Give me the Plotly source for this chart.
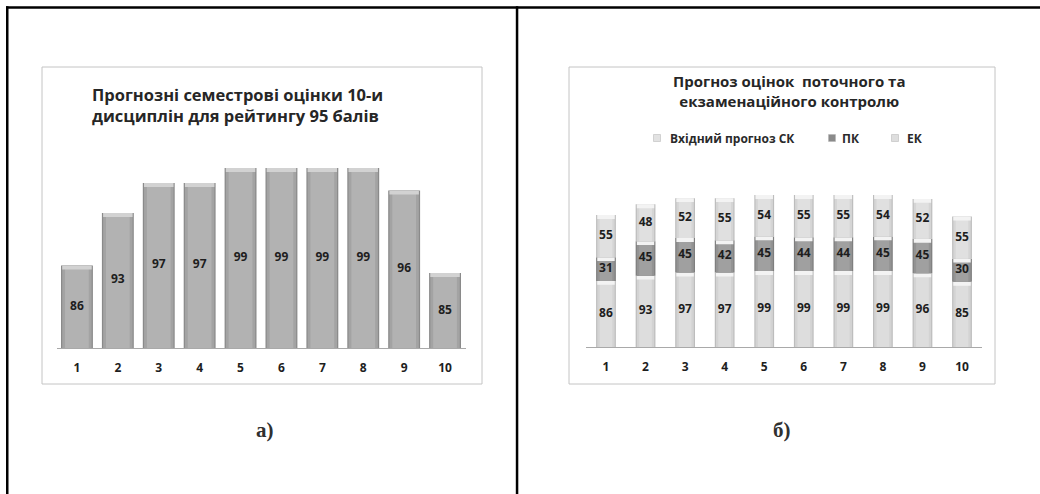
import plotly.graph_objects as go

# ---- data -------------------------------------------------------------
disciplines = [1, 2, 3, 4, 5, 6, 7, 8, 9, 10]
tick_labels = [str(d) for d in disciplines]

# (a) predicted semester scores for a rating of 95
semester_scores = [86, 93, 97, 97, 99, 99, 99, 99, 96, 85]

# (b) stacked forecast: incoming SK forecast, PK, EK
incoming_sk = [86, 93, 97, 97, 99, 99, 99, 99, 96, 85]
current_pk = [31, 45, 45, 42, 45, 44, 44, 45, 45, 30]
exam_ek = [55, 48, 52, 55, 54, 55, 55, 54, 52, 55]

series_names = ["Вхідний прогноз СК", "ПК", "ЕК"]

title_a = "Прогнозні семестрові оцінки 10-и<br>дисциплін для рейтингу 95 балів"
title_b = "Прогноз оцінок  поточного та<br>екзаменаційного контролю"

# ---- page geometry ----------------------------------------------------
W, H = 1040, 494


def px(x):
    return x / W


def py(y):
    return 1 - y / H


FONT = "Open Sans"
TXT = "#1e1e1e"

A_MIN, A_MAX = 75, 102.73
B_MAX = 217.7

fig = go.Figure()

# ---- panel (a): single series with a bevelled look ----------------------
for width, color in [(0.78, "#8a8a8a"), (0.72, "#a3a3a3"), (0.58, "#b2b2b2")]:
    fig.add_bar(x=disciplines, y=semester_scores, width=width,
                marker=dict(color=color, line_width=0),
                xaxis="x", yaxis="y", hoverinfo="skip", showlegend=False)
cap = 0.55
fig.add_bar(x=disciplines, y=[cap] * len(disciplines),
            base=[v - cap for v in semester_scores], width=0.72,
            marker=dict(color="#d2d2d2", line_width=0),
            xaxis="x", yaxis="y", hoverinfo="skip", showlegend=False)
fig.add_scatter(x=disciplines, y=[(A_MIN + v) / 2 for v in semester_scores],
                mode="text", text=[str(v) for v in semester_scores],
                textfont=dict(family=FONT, size=12, color=TXT, weight="bold"),
                xaxis="x", yaxis="y", hoverinfo="skip", showlegend=False)

# ---- panel (b): stacked series -----------------------------------------
base_pk = incoming_sk
base_ek = [s + p for s, p in zip(incoming_sk, current_pk)]
segments = [
    (incoming_sk, [0] * len(disciplines), ("#bdbdbd", "#d3d3d3", "#dddddd")),
    (current_pk, base_pk, ("#7e7e7e", "#939393", "#a0a0a0")),
    (exam_ek, base_ek, ("#bdbdbd", "#d5d5d5", "#e0e0e0")),
]
hl = 5
for values, bases, colors in segments:
    for width, color in zip((0.5, 0.44, 0.32), colors):
        fig.add_bar(x=disciplines, y=values, base=bases, width=width,
                    marker=dict(color=color, line_width=0),
                    xaxis="x2", yaxis="y2", hoverinfo="skip", showlegend=False)
    fig.add_bar(x=disciplines, y=[hl] * len(disciplines),
                base=[b + v - hl for b, v in zip(bases, values)], width=0.44,
                marker=dict(color="#f3f3f3", line_width=0),
                xaxis="x2", yaxis="y2", hoverinfo="skip", showlegend=False)
    fig.add_scatter(x=disciplines, y=[b + v / 2 for b, v in zip(bases, values)],
                    mode="text", text=[str(v) for v in values],
                    textfont=dict(family=FONT, size=12, color=TXT, weight="bold"),
                    xaxis="x2", yaxis="y2", hoverinfo="skip", showlegend=False)

# ---- axes -------------------------------------------------------------
xcommon = dict(range=[0.5, 10.5], tickvals=disciplines, ticktext=tick_labels,
               showline=True, linecolor="#a9a9a9", linewidth=1,
               showgrid=False, zeroline=False, ticks="outside", ticklen=9,
               tickcolor="rgba(0,0,0,0)", fixedrange=True,
               tickfont=dict(family=FONT, size=12, color=TXT, weight="bold"))
fig.update_layout(
    xaxis=dict(domain=[px(56.5), px(465.5)], anchor="y", **xcommon),
    yaxis=dict(domain=[py(348), py(140)], range=[A_MIN, A_MAX], visible=False,
               fixedrange=True),
    xaxis2=dict(domain=[px(586.2), px(981.8)], anchor="y2", **xcommon),
    yaxis2=dict(domain=[py(347), py(180)], range=[0, B_MAX], visible=False,
                fixedrange=True),
)

# ---- frames, chart boxes, legend ---------------------------------------
P = dict(xref="paper", yref="paper")
NOLINE = dict(width=0, color="rgba(0,0,0,0)")
shapes = [
    dict(type="rect", x0=px(42), x1=px(482), y0=py(384), y1=py(67),
         line=dict(color="#c4c4c4", width=1), **P),
    dict(type="rect", x0=px(569), x1=px(995), y0=py(384), y1=py(67),
         line=dict(color="#c4c4c4", width=1), **P),
    # table rules drawn as solid black strips
    dict(type="rect", x0=px(6), x1=px(1040), y0=py(8.8), y1=py(6.2),
         fillcolor="black", line=NOLINE, **P),
    dict(type="rect", x0=px(6), x1=px(8.5), y0=py(494), y1=py(6.2),
         fillcolor="black", line=NOLINE, **P),
    dict(type="rect", x0=px(515.8), x1=px(518.3), y0=py(494), y1=py(6.2),
         fillcolor="black", line=NOLINE, **P),
]
legend_x = [(657, 668, "#e2e2e2"), (832, 840, "#8a8a8a"), (895, 905, "#dedede")]
annotations = []
for (mx, tx, col), name in zip(legend_x, series_names):
    shapes.append(dict(type="rect", x0=px(mx - 3.5), x1=px(mx + 3.5),
                       y0=py(141.5), y1=py(134.5),
                       line=dict(color="#b0b0b0", width=0.5), fillcolor=col,
                       **P))
    annotations.append(dict(x=px(tx), y=py(138), xref="paper", yref="paper",
                            text=name, showarrow=False, xanchor="left",
                            yanchor="middle",
                            font=dict(family=FONT, size=12, color="#2a2a2a",
                                      weight="bold")))

annotations += [
    dict(x=px(90), y=py(105), xref="paper", yref="paper", text=title_a,
         showarrow=False, xanchor="left", yanchor="middle", align="left",
         font=dict(family=FONT, size=16.5, color="#262626", weight="bold")),
    dict(x=px(789), y=py(91), xref="paper", yref="paper", text=title_b,
         showarrow=False, xanchor="center", yanchor="middle", align="center",
         font=dict(family=FONT, size=15, color="#262626", weight="bold")),
    dict(x=px(265), y=py(430), xref="paper", yref="paper", text="а)",
         showarrow=False, xanchor="center", yanchor="middle",
         font=dict(family="Liberation Serif", size=21, color="#303030",
                   weight="bold")),
    dict(x=px(782), y=py(430), xref="paper", yref="paper", text="б)",
         showarrow=False, xanchor="center", yanchor="middle",
         font=dict(family="Liberation Serif", size=21, color="#303030",
                   weight="bold")),
]

fig.update_layout(
    width=W, height=H, autosize=False, margin=dict(l=0, r=0, t=0, b=0),
    barmode="overlay", paper_bgcolor="white",
    plot_bgcolor="rgba(0,0,0,0)", shapes=shapes, annotations=annotations,
    showlegend=False,
)

fig.write_html("out.html", config=dict(displayModeBar=False))
